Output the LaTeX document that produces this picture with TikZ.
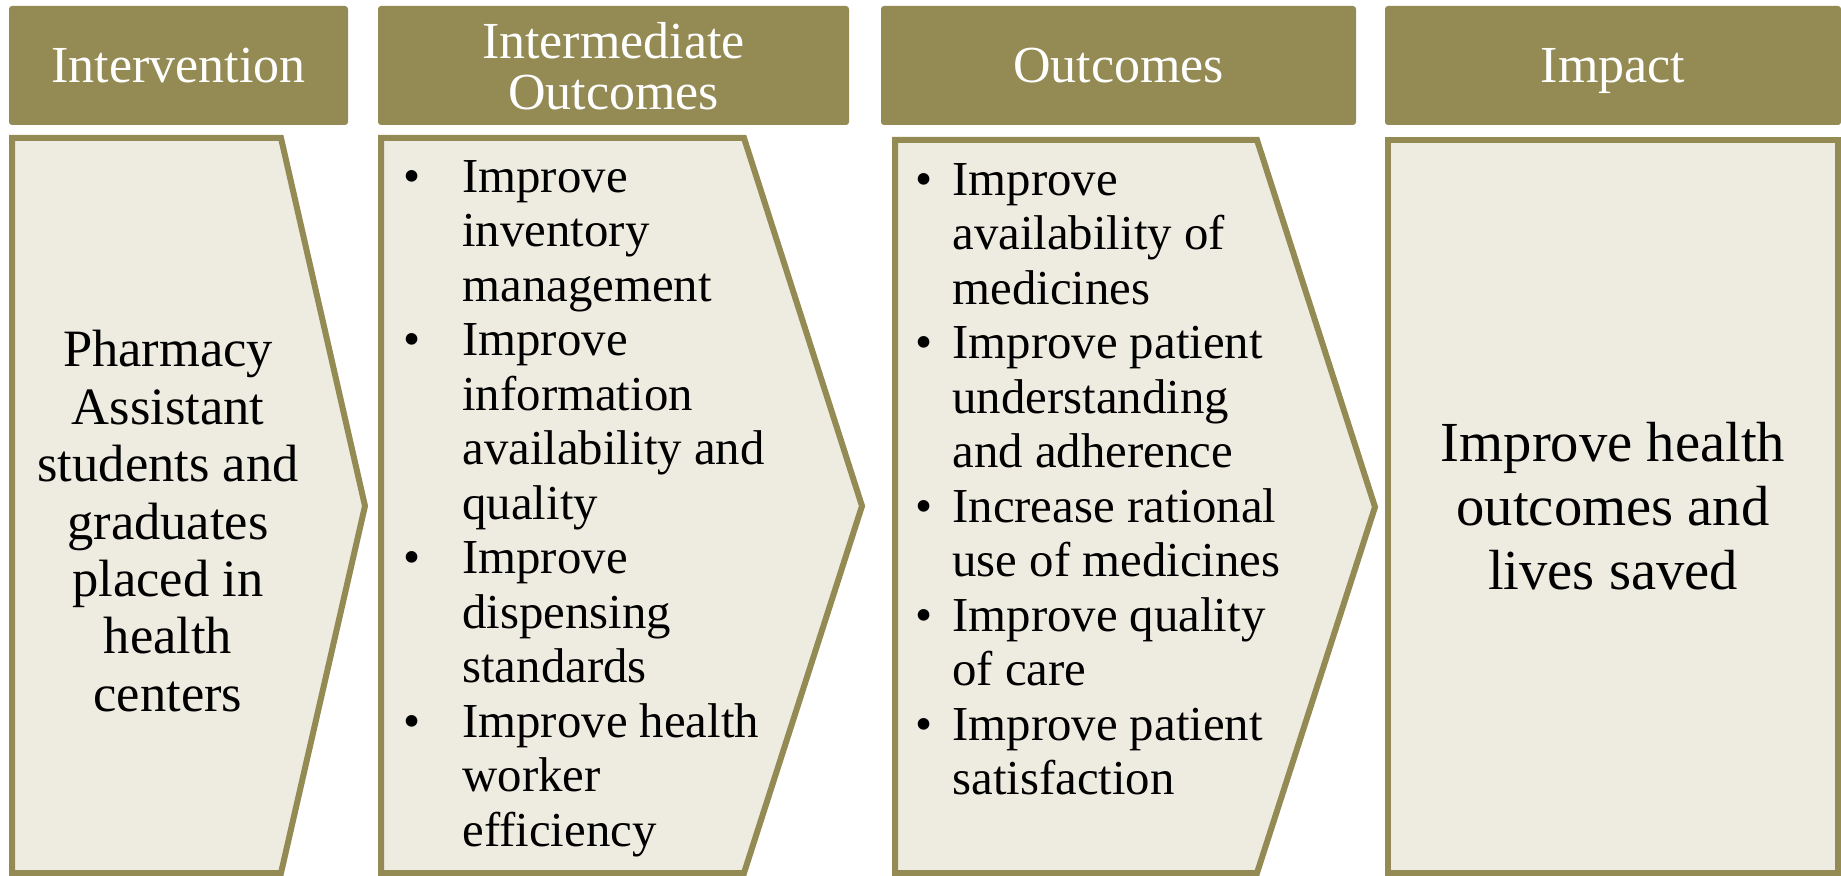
\documentclass[tikz,border=0pt]{standalone}
\usepackage{fontspec}
\setmainfont{Liberation Serif}
\definecolor{hdrolive}{RGB}{148,138,84}
\definecolor{bodytan}{RGB}{238,236,225}
\tikzset{
  hdr/.style={fill=hdrolive, draw=none, rounded corners=1.5pt, text=white, inner sep=0pt,
    align=center, text depth=0pt, font=\fontsize{26}{25.5}\selectfont},
  chev/.style={fill=bodytan, draw=hdrolive, line width=3pt, line join=miter},
  bullets/.style={anchor=north west, inner sep=0pt, align=left, font=\fontsize{24.4}{27.25}\selectfont},
  bodytxt/.style={anchor=north, inner sep=0pt, align=center},
}
\newcommand{\bul}[1]{\llap{\makebox[#1][l]{\textbullet}}}

\begin{document}
\begin{tikzpicture}[x=0.5pt,y=-0.5pt]
        \useasboundingbox (0,0) rectangle (1841,876);
        \foreach \n/\xa/\xb/\txt in {1/9/348/Intervention,2/378/849/{Intermediate\\Outcomes},3/881/1356/Outcomes,4/1385/1841/Impact} {
            \node[hdr, minimum width={(\xb-\xa)*0.5pt}, minimum height=59.5pt] (hdr\n) at ({(\xa+\xb)/2},65.5) {\txt};
          }
        \draw[chev] (12,138) -- (281,138) -- (365,506) -- (281,873) -- (12,873) -- cycle;
        \draw[chev] (381,138) -- (744,138) -- (862,506) -- (744,873) -- (381,873) -- cycle;
        \draw[chev] (895,140) -- (1257,140) -- (1375,507) -- (1257,873) -- (895,873) -- cycle;
        \draw[chev] (1388,140) rectangle (1838,873);
        \node[bodytxt, font=\fontsize{26.25}{28.7}\selectfont] (intervtxt) at (168,330)
          {Pharmacy\\Assistant\\students and\\graduates\\placed in\\health\\centers};
        \node[bullets] (midtxt) at (462,160)
          {\bul{29.5pt}Improve\\inventory\\management\\
           \bul{29.5pt}Improve\\information\\availability and\\quality\\
           \bul{29.5pt}Improve\\dispensing\\standards\\
           \bul{29.5pt}Improve health\\worker\\efficiency};
        \node[bullets] (outtxt) at (952,163)
          {\bul{18.5pt}Improve\\availability of\\medicines\\
           \bul{18.5pt}Improve patient\\understanding\\and adherence\\
           \bul{18.5pt}Increase rational\\use of medicines\\
           \bul{18.5pt}Improve quality\\of care\\
           \bul{18.5pt}Improve patient\\satisfaction};
        \node[bodytxt, font=\fontsize{28.3}{32}\selectfont] (imptxt) at (1613,422)
          {Improve health\\outcomes and\\lives saved};
      \end{tikzpicture}
\end{document}
